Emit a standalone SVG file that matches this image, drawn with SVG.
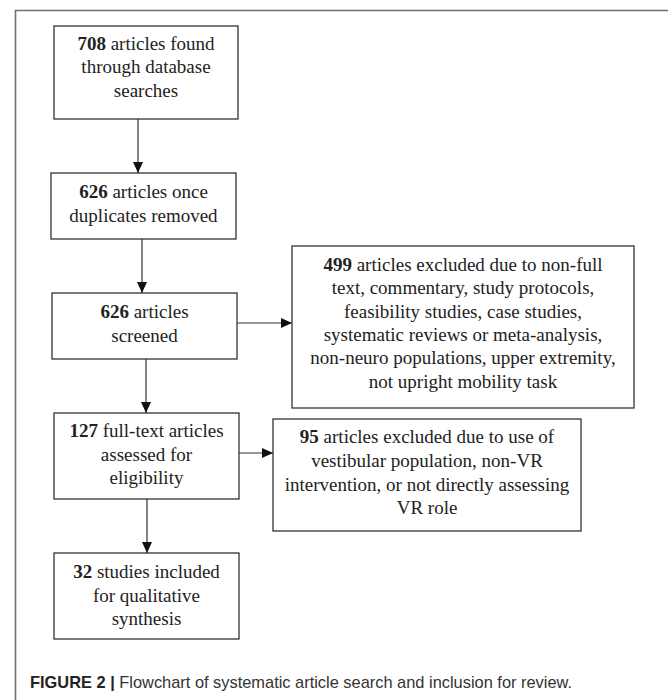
<svg xmlns="http://www.w3.org/2000/svg" width="668" height="700" viewBox="0 0 668 700">
<defs>
<marker id="ah" markerWidth="12" markerHeight="12" refX="11" refY="5" orient="auto" markerUnits="userSpaceOnUse">
<path d="M0,0 L11,5 L0,10 Z" fill="#111"/>
</marker>
<style>
.box{fill:#fff;stroke:#333;stroke-width:1.3}
.t{font-family:"Liberation Serif","Times New Roman",serif;font-size:19px;fill:#222;text-anchor:middle}
.b{font-weight:bold}
.c{stroke:#333;stroke-width:1.2;fill:none;marker-end:url(#ah)}
.cap{font-family:"Liberation Sans",Arial,sans-serif;font-size:16.4px;fill:#333}
</style>
</defs>
<rect width="668" height="700" fill="#fff"/>
<path d="M15.5,710 L15.5,10.5 L680,10.5" fill="none" stroke="#707070" stroke-width="1.6"/>
<g id="connectors">
<line class="c" x1="138" y1="119" x2="138" y2="173"/>
<line class="c" x1="142" y1="239" x2="142" y2="293"/>
<line class="c" x1="146" y1="359" x2="146" y2="413"/>
<line class="c" x1="147" y1="499" x2="147" y2="553"/>
<line class="c" x1="237" y1="323" x2="292" y2="323"/>
<line class="c" x1="239" y1="453" x2="273" y2="453"/>
</g>
<g id="n708">
<rect class="box" x="54" y="26" width="184" height="93"/>
<text class="t" x="146" y="50"><tspan class="b">708</tspan> articles found</text>
<text class="t" x="146" y="73">through database</text>
<text class="t" x="146" y="97">searches</text>
</g>
<g id="n626a">
<rect class="box" x="51" y="173" width="185" height="66"/>
<text class="t" x="143.5" y="198"><tspan class="b">626</tspan> articles once</text>
<text class="t" x="143.5" y="222">duplicates removed</text>
</g>
<g id="n626b">
<rect class="box" x="52" y="293" width="185" height="66"/>
<text class="t" x="144.5" y="318"><tspan class="b">626</tspan> articles</text>
<text class="t" x="144.5" y="342">screened</text>
</g>
<g id="n127">
<rect class="box" x="54" y="413" width="185" height="86"/>
<text class="t" x="146.5" y="437"><tspan class="b">127</tspan> full-text articles</text>
<text class="t" x="146.5" y="461">assessed for</text>
<text class="t" x="146.5" y="484">eligibility</text>
</g>
<g id="n32">
<rect class="box" x="54" y="553" width="185" height="86"/>
<text class="t" x="146.5" y="578"><tspan class="b">32</tspan> studies included</text>
<text class="t" x="146.5" y="602">for qualitative</text>
<text class="t" x="146.5" y="625">synthesis</text>
</g>
<g id="n499">
<rect class="box" x="292" y="246" width="342" height="162"/>
<text class="t" x="463" y="271"><tspan class="b">499</tspan> articles excluded due to non-full</text>
<text class="t" x="463" y="294">text, commentary, study protocols,</text>
<text class="t" x="463" y="318">feasibility studies, case studies,</text>
<text class="t" x="463" y="341">systematic reviews or meta-analysis,</text>
<text class="t" x="463" y="364">non-neuro populations, upper extremity,</text>
<text class="t" x="463" y="388">not upright mobility task</text>
</g>
<g id="n95">
<rect class="box" x="273" y="419" width="308" height="112"/>
<text class="t" x="427" y="443"><tspan class="b">95</tspan> articles excluded due to use of</text>
<text class="t" x="427" y="467">vestibular population, non-VR</text>
<text class="t" x="427" y="491">intervention, or not directly assessing</text>
<text class="t" x="427" y="514">VR role</text>
</g>
<text class="cap" x="30" y="688"><tspan font-weight="bold" fill="#222">FIGURE 2 |</tspan> Flowchart of systematic article search and inclusion for review.</text>
</svg>
